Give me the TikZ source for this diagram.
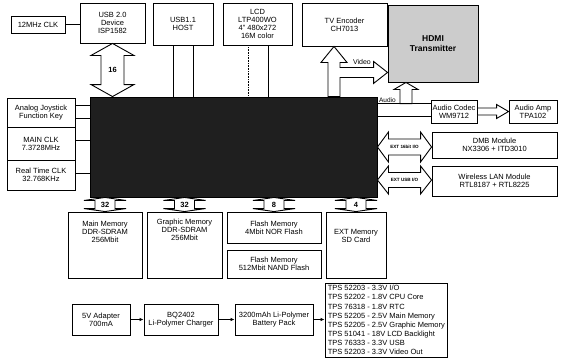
\documentclass[tikz,border=0pt]{standalone}
\usepackage{fontspec}
\setmainfont{Liberation Sans}
\usetikzlibrary{calc,arrows.meta}
\newcommand\vBus[5]{\draw[hollow] (#1) -- ($(#1)+(#4,#5)$) -- ($(#1)+(#3,#5)$) -- ($(#2)+(#3,-#5)$) -- ($(#2)+(#4,-#5)$) -- (#2) -- ($(#2)+(-#4,-#5)$) -- ($(#2)+(-#3,-#5)$) -- ($(#1)+(-#3,#5)$) -- ($(#1)+(-#4,#5)$) -- cycle;}
\newcommand\hBus[5]{\draw[hollow] (#1) -- ($(#1)+(#5,-#4)$) -- ($(#1)+(#5,-#3)$) -- ($(#2)+(-#5,-#3)$) -- ($(#2)+(-#5,-#4)$) -- (#2) -- ($(#2)+(-#5,#4)$) -- ($(#2)+(-#5,#3)$) -- ($(#1)+(#5,#3)$) -- ($(#1)+(#5,#4)$) -- cycle;}
\newcommand\upArr[5]{\draw[hollow] (#1) -- ($(#1)+(#4,#5)$) -- ($(#1)+(#3,#5)$) -- ($(#2)+(#3,0)$) -- ($(#2)+(-#3,0)$) -- ($(#1)+(-#3,#5)$) -- ($(#1)+(-#4,#5)$) -- cycle;}
\newcommand\rArr[5]{\draw[hollow] ($(#1)+(0,-#3)$) -- ($(#2)+(-#5,-#3)$) -- ($(#2)+(-#5,-#4)$) -- (#2) -- ($(#2)+(-#5,#4)$) -- ($(#2)+(-#5,#3)$) -- ($(#1)+(0,#3)$) -- cycle;}
\begin{document}
\begin{tikzpicture}[x=1pt,y=-1pt,
  box/.style={draw,line width=0.9pt,inner sep=0pt,align=center,font=\fontsize{7.5}{8}\selectfont},
  hollow/.style={draw,line width=0.9pt,fill=white,line join=miter},
  link/.style={line width=0.9pt},
  pwr/.style={line width=0.9pt,-{Latex[length=4pt,width=3.5pt]}},
  buslbl/.style={font=\bfseries\fontsize{7.5}{8}\selectfont,inner sep=0pt},
  extlbl/.style={font=\bfseries\fontsize{4.6}{5}\selectfont,inner sep=0pt},
  txt/.style={inner sep=0pt,align=center,font=\fontsize{7.5}{8}\selectfont},
  small/.style={inner sep=0pt,font=\fontsize{6.5}{7}\selectfont},
]
\useasboundingbox (0,0) rectangle (561,359);
% top row
\node[box,minimum width=54,minimum height=17] (clk12) at (38,24.5) {12MHz CLK};
\node[box,minimum width=65,minimum height=40] (usb2) at (112.5,23) {USB 2.0\\Device\\ISP1582};
\node[box,minimum width=60,minimum height=42] (usb11) at (183,24) {USB1.1\\HOST};
\node[box,minimum width=69,minimum height=42] (lcd) at (257.5,24) {LCD\\LTP400WO\\4" 480x272\\16M color};
\node[box,minimum width=85,minimum height=43] (tv) at (344.5,24.5) {TV Encoder\\CH7013};
\node[box,fill=black!20,minimum width=90,minimum height=77,font=\bfseries\fontsize{8.5}{10}\selectfont] (hdmi) at (433,43.5) {HDMI\\Transmitter};
% core
\node[draw,line width=0.9pt,fill=black!88,minimum width=287,minimum height=100,inner sep=0pt] (core) at (233.5,147) {};
% left
\node[box,minimum width=68,minimum height=29] (joy) at (41,112.5) {Analog Joystick\\Function Key};
\node[box,minimum width=68,minimum height=33] (mclk) at (41,143.5) {MAIN CLK\\7.3728MHz};
\node[box,minimum width=68,minimum height=30] (rtc) at (41,175) {Real Time CLK\\32.768KHz};
% right
\node[box,minimum width=46,minimum height=23] (codec) at (454,111.5) {Audio Codec\\WM9712};
\node[box,minimum width=48,minimum height=23] (amp) at (533,111.5) {Audio Amp\\TPA102};
\node[box,minimum width=125,minimum height=26] (dmb) at (494.5,145) {DMB Module\\NX3306 + ITD3010};
\node[box,minimum width=125,minimum height=30] (wlan) at (494.5,181) {Wireless LAN Module\\RTL8187 + RTL8225};
% memories
\node[box,minimum width=74,minimum height=66] (mainmem) at (105,245) {};
\node[txt] (mainmemtxt) at (105,232) {Main Memory\\DDR-SDRAM\\256Mbit};
\node[box,minimum width=75,minimum height=66] (gfxmem) at (184.5,245) {};
\node[txt] (gfxmemtxt) at (184.5,230) {Graphic Memory\\DDR-SDRAM\\256Mbit};
\node[box,minimum width=94,minimum height=31] (nor) at (274,227.5) {Flash Memory\\4Mbit NOR Flash};
\node[box,minimum width=94,minimum height=28] (nand) at (274,264) {Flash Memory\\512Mbit NAND Flash};
\node[box,minimum width=60,minimum height=66] (extmem) at (356,245) {};
\node[txt] (extmemtxt) at (356,236) {EXT Memory\\SD Card};
% power
\node[box,minimum width=58,minimum height=31] (adapter) at (101,319.5) {5V Adapter\\700mA};
\node[box,minimum width=74,minimum height=31] (charger) at (181,319.5) {BQ2402\\Li-Polymer Charger};
\node[box,minimum width=78,minimum height=31] (battery) at (274,319.5) {3200mAh Li-Polymer\\Battery Pack};
\node[box,minimum width=122,minimum height=74] (tps) at (386,320) {};
\node[anchor=west,inner sep=0pt,align=left,font=\fontsize{7.5}{9.1}\selectfont] (tpstxt) at ($(tps.west)+(3,0)$) {TPS 52203 - 3.3V I/O\\TPS 52202 - 1.8V CPU Core\\TPS 76318 - 1.8V RTC\\TPS 52205 - 2.5V Main Memory\\TPS 52205 - 2.5V Graphic Memory\\TPS 51041 - 18V LCD Backlight\\TPS 76333 - 3.3V USB\\TPS 52203 - 3.3V Video Out};
% simple links
\draw[link] (clk12.east) -- (clk12.east -| usb2.west);
\draw[link] ($(usb11.south)+(-10,0)$) -- ($(usb11.south |- core.north)+(-10,0)$);
\draw[link] ($(usb11.south)+(10,0)$) -- ($(usb11.south |- core.north)+(10,0)$);
\draw[line width=0.6pt,densely dotted] ($(lcd.south)+(-9.5,0)$) -- ($(lcd.south |- core.north)+(-9.5,0)$);
\draw[link] ($(lcd.south)+(10.5,0)$) -- ($(lcd.south |- core.north)+(10.5,0)$);
\draw[link] ($(joy.east)+(0,-7.5)$) -- ($(joy.east -| core.west)+(0,-7.5)$);
\draw[link] ($(joy.east)+(0,5.5)$) -- ($(joy.east -| core.west)+(0,5.5)$);
\draw[link] ($(mclk.east)+(0,-3.5)$) -- ($(mclk.east -| core.west)+(0,-3.5)$);
\draw[link] ($(rtc.east)+(0,-2)$) -- ($(rtc.east -| core.west)+(0,-2)$);
% audio band
\coordinate (audT) at ($(core.north east)+(0,7)$);
\coordinate (audB) at ($(core.north east)+(0,20)$);
\draw[link] (audT) -- (audT -| codec.west);
\draw[link] (audB) -- (audB -| codec.west);
% bus arrows
\coordinate (b16t) at (usb2.south);
\coordinate (b16b) at (usb2.south |- core.north);
\vBus{b16t}{b16b}{11.5}{21.5}{12}
\node[buslbl] (l16) at ($(b16t)!0.5!(b16b)$) {16};
\coordinate (tvA) at ($(tv.south)+(-10.5,0)$);
\coordinate (tvB) at (tvA |- core.north);
\upArr{tvA}{tvB}{6}{13}{16}
\coordinate (vidtip) at ($(hdmi.south west)+(0,-10)$);
\coordinate (vidbase) at ($(vidtip -| tvA)+(6,0)$);
\draw[hollow] ($(vidbase)+(0,-5)$) -- ($(vidtip)+(-14,-5)$) -- ($(vidtip)+(-14,-11)$) -- (vidtip) -- ($(vidtip)+(-14,11)$) -- ($(vidtip)+(-14,5)$) -- ($(vidbase)+(0,5)$);
\fill[white] ($(vidbase)+(-0.7,-4.5)$) rectangle ($(vidbase)+(0.7,4.5)$);
\node[small,font=\fontsize{7}{8}\selectfont] (vidlbl) at ($(vidbase)+(22,-10.5)$) {Video};
\coordinate (auA) at ($(hdmi.south)+(-27,0)$);
\coordinate (auB) at (auA |- audT);
\upArr{auA}{auB}{6}{12}{7}
\node[small,anchor=south] (audlbl) at ($(audT)+(10,-1)$) {Audio};
\rArr{codec.east}{amp.west}{3.5}{7}{12}
\coordinate (e1L) at (core.east);
\coordinate (e1R) at (e1L -| dmb.west);
\hBus{e1L}{e1R}{8}{15}{11}
\node[extlbl] (e1lbl) at ($(e1L)!0.5!(e1R)$) {EXT 16bit I/O};
\coordinate (e2L) at ($(core.east)+(0,33)$);
\coordinate (e2R) at (e2L -| wlan.west);
\hBus{e2L}{e2R}{7.5}{14}{11}
\node[extlbl] (e2lbl) at ($(e2L)!0.5!(e2R)$) {EXT USB I/O};
% bottom buses
\coordinate (m1t) at (mainmem.north |- core.south);
\coordinate (m1b) at (mainmem.north);
\vBus{m1t}{m1b}{10}{21}{3}
\node[buslbl] (l32a) at ($(m1t)!0.5!(m1b)$) {32};
\coordinate (m2t) at (gfxmem.north |- core.south);
\coordinate (m2b) at (gfxmem.north);
\vBus{m2t}{m2b}{10}{21}{3}
\node[buslbl] (l32b) at ($(m2t)!0.5!(m2b)$) {32};
\coordinate (m3t) at (nor.north |- core.south);
\coordinate (m3b) at (nor.north);
\vBus{m3t}{m3b}{10}{21}{3}
\node[buslbl] (l8) at ($(m3t)!0.5!(m3b)$) {8};
\coordinate (m4t) at (extmem.north |- core.south);
\coordinate (m4b) at (extmem.north);
\vBus{m4t}{m4b}{10}{21}{3}
\node[buslbl] (l4) at ($(m4t)!0.5!(m4b)$) {4};
% power chain
\draw[pwr] (adapter.east) -- (charger.west);
\draw[pwr] (charger.east) -- (battery.west);
\draw[pwr] (battery.east) -- (battery.east -| tps.west);
\end{tikzpicture}
\end{document}
